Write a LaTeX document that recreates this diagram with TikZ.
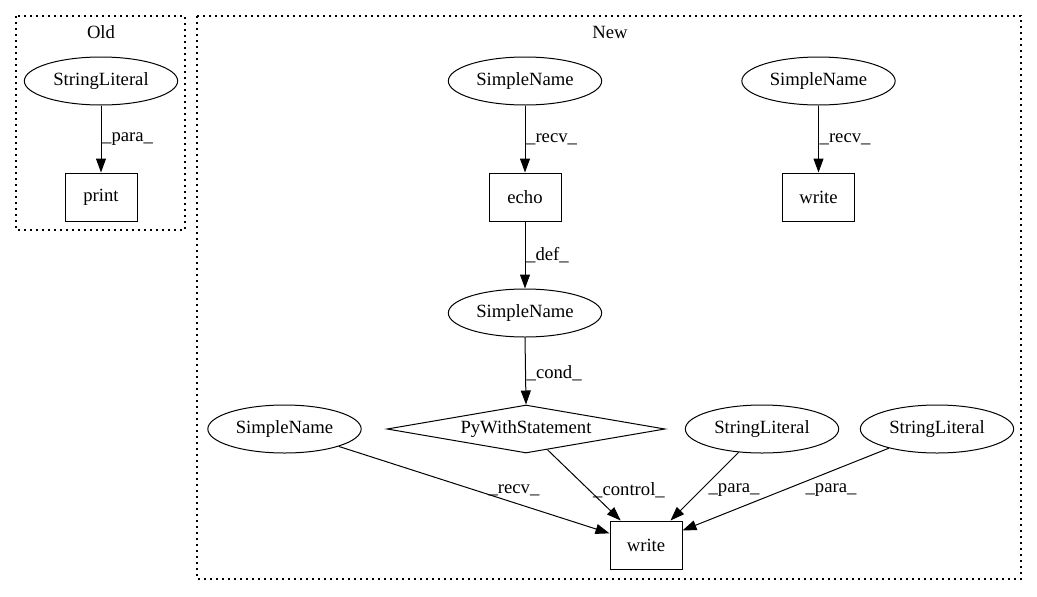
\documentclass[tikz,border=0pt]{standalone}
\usepackage{fontspec}
\setmainfont{Liberation Serif}
\usetikzlibrary{shapes.geometric,arrows.meta}
\tikzset{
  every node/.style={font=\fontsize{14}{16}\selectfont},
  ell/.style={draw, ellipse, line width=0.75pt, inner sep=0pt, minimum width=115pt, minimum height=36pt},
  boxnode/.style={draw, rectangle, line width=0.75pt, inner sep=0pt, minimum width=54pt, minimum height=36pt},
  dia/.style={draw, diamond, line width=0.75pt, inner sep=0pt, shape aspect=5.8, minimum width=208.5pt, minimum height=36pt},
  edge/.style={line width=0.75pt, -{Triangle[length=10.5pt,width=7.5pt]}},
  lab/.style={inner sep=0.5pt},
  cluster/.style={line width=1pt, dash pattern=on 1.2pt off 3.3pt}
}
\begin{document}
\begin{tikzpicture}[x=0.75pt,y=-0.75pt]
\useasboundingbox (0,0) rectangle (1037,596);
% clusters
\draw[cluster] (16,16) rectangle (185,230);
\node (oldlab) at (101,32) {Old};
\draw[cluster] (197,16) rectangle (1021,579);
\node (newlab) at (610,32) {New};
% Old
\node[ell] (osl) at (101,81) {StringLiteral};
\node[boxnode] (oprint) at (101,197) {print};
\draw[edge] (osl) -- node[lab, right] {\_para\_} (oprint);
% New
\node[ell] (sn1) at (525,81) {SimpleName};
\node[boxnode] (echo) at (525,197) {echo};
\node[ell] (sn2) at (818.5,81) {SimpleName};
\node[boxnode] (w1) at (818.5,197) {write};
\node[ell] (sn3) at (525,313) {SimpleName};
\node[dia] (pw) at (526,429) {PyWithStatement};
\node[ell] (sn4) at (284.5,429) {SimpleName};
\node[ell] (sl1) at (762,429) {StringLiteral};
\node[ell] (sl2) at (937,429) {StringLiteral};
\node[boxnode] (w2) at (646,545) {write};
\draw[edge] (sn1) -- node[lab, right] {\_recv\_} (echo);
\draw[edge] (sn2) -- node[lab, right] {\_recv\_} (w1);
\draw[edge] (echo) -- node[lab, right] {\_def\_} (sn3);
\draw[edge] (sn3.south) -- node[lab, right, yshift=-2pt] {\_cond\_} (pw.north);
\draw[edge] (sn4) -- (w2);
\draw[edge] (pw) -- (w2);
\draw[edge] (sl1) -- (w2);
\draw[edge] (sl2) -- (w2);
\node (l1) at (514,490) {\_recv\_};
\node (l2) at (629,490) {\_control\_};
\node (l3) at (734,490) {\_para\_};
\node (l4) at (831,490) {\_para\_};
\end{tikzpicture}
\end{document}
